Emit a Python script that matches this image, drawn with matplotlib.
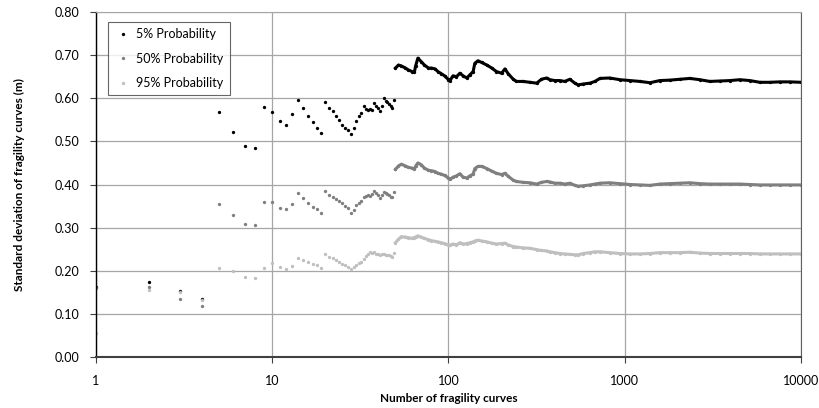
import matplotlib
matplotlib.use("Agg")
import matplotlib.pyplot as plt

plt.rcParams['font.family'] = ['Lato', 'DejaVu Sans']

# ------------------------------------------------------------
# data
# first 49 curves: one value per number of curves
# ------------------------------------------------------------
n_sparse = list(range(1, 50))

p05_sparse = [0.163, 0.174, 0.153, 0.135, 0.568, 0.522, 0.489, 0.485, 0.579, 0.568,
              0.548, 0.537, 0.564, 0.595, 0.577, 0.559, 0.545, 0.532, 0.519, 0.591,
              0.577, 0.571, 0.559, 0.549, 0.538, 0.532, 0.527, 0.517, 0.532, 0.548,
              0.558, 0.565, 0.583, 0.575, 0.573, 0.575, 0.572, 0.590, 0.582, 0.578,
              0.571, 0.582, 0.600, 0.594, 0.591, 0.586, 0.583, 0.578, 0.596]

p50_sparse = [0.160, 0.162, 0.135, 0.118, 0.354, 0.330, 0.309, 0.306, 0.359, 0.360,
              0.346, 0.343, 0.355, 0.380, 0.369, 0.358, 0.347, 0.344, 0.335, 0.386,
              0.376, 0.370, 0.367, 0.362, 0.357, 0.351, 0.345, 0.333, 0.342, 0.353,
              0.357, 0.362, 0.370, 0.374, 0.376, 0.374, 0.378, 0.385, 0.380, 0.375,
              0.368, 0.376, 0.383, 0.380, 0.377, 0.375, 0.372, 0.370, 0.383]

p95_sparse = [0.055, 0.155, 0.150, 0.133, 0.207, 0.199, 0.186, 0.183, 0.206, 0.217,
              0.208, 0.205, 0.212, 0.230, 0.225, 0.220, 0.216, 0.213, 0.206, 0.239,
              0.233, 0.229, 0.225, 0.220, 0.216, 0.213, 0.208, 0.205, 0.209, 0.214,
              0.217, 0.220, 0.228, 0.234, 0.240, 0.243, 0.242, 0.244, 0.240, 0.239,
              0.237, 0.240, 0.239, 0.237, 0.236, 0.236, 0.234, 0.233, 0.242]

# 50 curves and more: the dots merge into a band, sampled along it
n_dense = [50, 52, 54, 57, 59, 62, 64, 65, 67, 70,
           73, 77, 80, 84, 87, 91, 95, 100, 102, 106,
           111, 116, 121, 127, 132, 138, 141, 147, 154, 165,
           176, 187, 200, 209, 218, 233, 243, 265, 290, 316,
           337, 360, 376, 401, 429, 457, 488, 521, 544, 581,
           634, 677, 723, 820, 940, 1070, 1220, 1390, 1580, 1800,
           2050, 2340, 2670, 3040, 3460, 3950, 4500, 5120, 5840, 6650,
           7580, 8640, 10000]

p05_dense = [0.670, 0.677, 0.675, 0.670, 0.666, 0.662, 0.660, 0.674, 0.693, 0.685,
             0.677, 0.670, 0.670, 0.668, 0.662, 0.657, 0.652, 0.643, 0.641, 0.652,
             0.650, 0.658, 0.652, 0.647, 0.654, 0.662, 0.681, 0.687, 0.683, 0.677,
             0.670, 0.662, 0.658, 0.668, 0.657, 0.644, 0.639, 0.639, 0.637, 0.635,
             0.644, 0.647, 0.643, 0.641, 0.641, 0.639, 0.644, 0.635, 0.631, 0.633,
             0.635, 0.639, 0.646, 0.647, 0.643, 0.641, 0.639, 0.636, 0.641, 0.642,
             0.644, 0.646, 0.643, 0.639, 0.640, 0.641, 0.643, 0.641, 0.637, 0.637,
             0.638, 0.638, 0.637]

p50_dense = [0.435, 0.443, 0.447, 0.443, 0.440, 0.438, 0.436, 0.442, 0.450, 0.446,
             0.438, 0.433, 0.432, 0.430, 0.426, 0.424, 0.421, 0.415, 0.412, 0.417,
             0.420, 0.425, 0.417, 0.415, 0.420, 0.424, 0.437, 0.442, 0.442, 0.437,
             0.431, 0.426, 0.423, 0.426, 0.419, 0.410, 0.407, 0.405, 0.404, 0.401,
             0.405, 0.407, 0.406, 0.403, 0.403, 0.401, 0.403, 0.398, 0.396, 0.397,
             0.399, 0.401, 0.403, 0.404, 0.402, 0.400, 0.399, 0.398, 0.401, 0.402,
             0.403, 0.404, 0.402, 0.401, 0.401, 0.401, 0.401, 0.400, 0.399, 0.399,
             0.399, 0.399, 0.399]

p95_dense = [0.265, 0.273, 0.279, 0.278, 0.277, 0.275, 0.277, 0.278, 0.281, 0.278,
             0.275, 0.272, 0.270, 0.268, 0.267, 0.265, 0.263, 0.260, 0.259, 0.262,
             0.260, 0.265, 0.262, 0.263, 0.265, 0.267, 0.269, 0.271, 0.269, 0.267,
             0.264, 0.262, 0.263, 0.264, 0.260, 0.256, 0.255, 0.253, 0.252, 0.249,
             0.247, 0.246, 0.244, 0.242, 0.240, 0.239, 0.238, 0.237, 0.237, 0.240,
             0.242, 0.244, 0.244, 0.242, 0.240, 0.239, 0.239, 0.240, 0.242, 0.242,
             0.242, 0.243, 0.241, 0.240, 0.240, 0.240, 0.240, 0.240, 0.239, 0.239,
             0.239, 0.239, 0.239]

labels = ['5% Probability', '50% Probability', '95% Probability']
colors = ['#000000', '#7f7f7f', '#bfbfbf']

sparse = [p05_sparse, p50_sparse, p95_sparse]
dense = [p05_dense, p50_dense, p95_dense]

# ------------------------------------------------------------
fig = plt.figure(figsize=(8.2, 4.08), dpi=100)
ax = fig.add_axes([96/820, 1 - 357/408, 705/820, 345/408])

for lab, col, ys, yd in zip(labels, colors, sparse, dense):
    ax.plot(n_sparse, ys, linestyle='None', marker='o', markersize=2.4,
            color=col, markeredgewidth=0, label=lab)
    ax.plot(n_dense, yd, linestyle='-', linewidth=2.2, color=col,
            marker='o', markersize=2.4, markeredgewidth=0)

ax.set_xscale('log')
ax.set_xlim(1, 10000)
ax.set_ylim(0, 0.80)
ax.set_xticks([1, 10, 100, 1000, 10000])
ax.set_xticklabels(['1', '10', '100', '1000', '10000'])
ax.minorticks_off()
ax.set_yticks([i / 10 for i in range(9)])
ax.set_yticklabels([f"{i/10:.2f}" for i in range(9)])

ax.grid(True, color='#a6a6a6', linewidth=0.9)
ax.set_axisbelow(True)

ax.spines['left'].set_color('black')
ax.spines['left'].set_linewidth(1.0)
ax.spines['bottom'].set_color('#404040')
ax.spines['bottom'].set_linewidth(1.5)
ax.spines['top'].set_color('#a6a6a6')
ax.spines['right'].set_color('#606060')

ax.tick_params(axis='both', direction='out', length=4, width=0.8,
               color='#404040', labelsize=9, pad=8)
ax.tick_params(axis='x', pad=9)

ax.set_xlabel('Number of fragility curves', fontsize=8.5, fontweight='bold', labelpad=4)
ax.set_ylabel('Standard deviation of fragility curves (m)', fontsize=8.5,
              fontweight='bold', va='center')
ax.yaxis.set_label_coords(-0.109, 0.5)

leg = ax.legend(loc='upper left', bbox_to_anchor=(0.011, 0.982), fontsize=9,
                frameon=True, fancybox=False, edgecolor='#404040',
                handlelength=1.4, handletextpad=0.4, markerscale=1.0,
                borderpad=0.5, labelspacing=1.0, borderaxespad=0.3)
leg.get_frame().set_linewidth(0.8)

fig.savefig('out.png', dpi=100)
